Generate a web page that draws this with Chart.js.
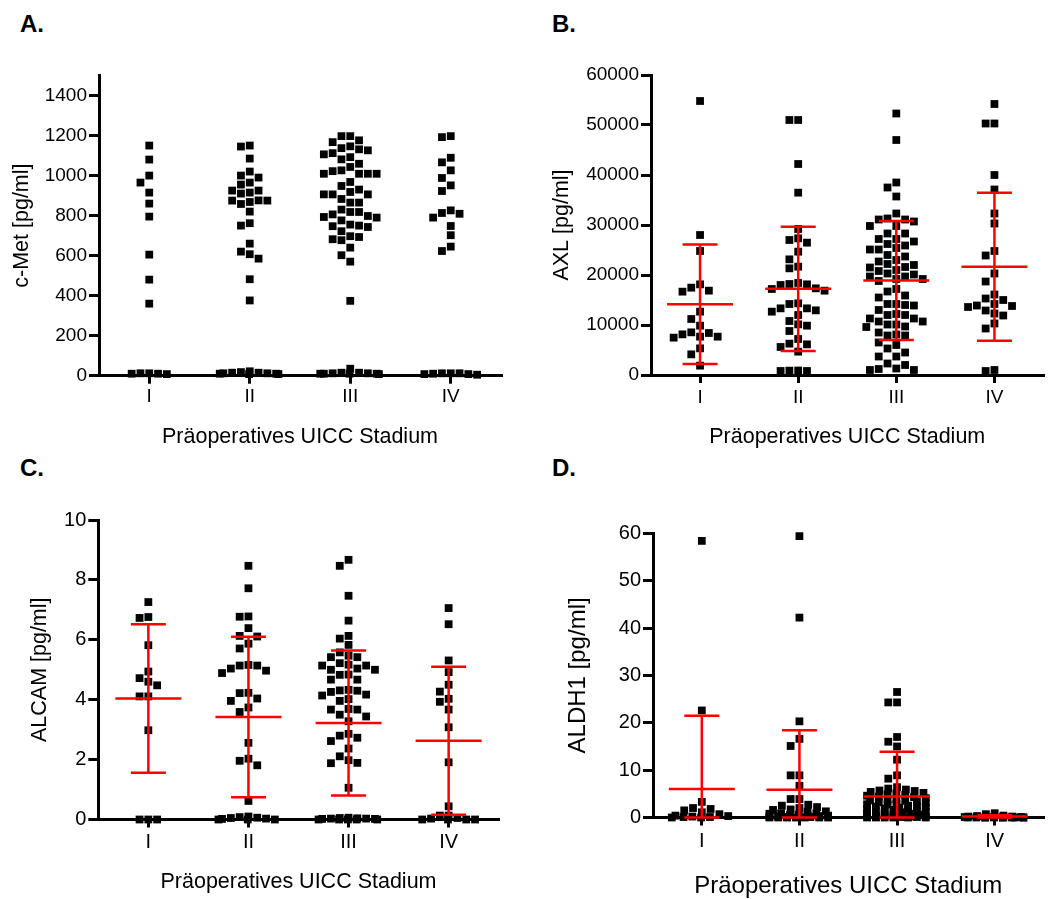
<!DOCTYPE html>
<html>
<head>
<meta charset="utf-8">
<script src="https://cdn.jsdelivr.net/npm/chart.js@4/dist/chart.umd.min.js"></script>
<style>
  html, body { margin: 0; padding: 0; background: #fff; }
  body { width: 1049px; height: 899px; position: relative; overflow: hidden; font-family: 'Liberation Sans', Arial, sans-serif; }
  canvas { position: absolute; }
  .lbl { position: absolute; font-weight: bold; font-size: 24px; line-height: 24px; color: #000; }
</style>
</head>
<body>
<div class="lbl" style="left:20px;top:12px;">A.</div>
<div class="lbl" style="left:552px;top:12px;">B.</div>
<div class="lbl" style="left:20px;top:456px;">C.</div>
<div class="lbl" style="left:552px;top:456px;">D.</div>
<canvas id="cA" width="520" height="450" style="left:0;top:0;"></canvas>
<canvas id="cB" width="529" height="450" style="left:520px;top:0;"></canvas>
<canvas id="cC" width="520" height="449" style="left:0;top:450px;"></canvas>
<canvas id="cD" width="529" height="449" style="left:520px;top:450px;"></canvas>
<script>
// ---------------- data ----------------
const categories = ['I', 'II', 'III', 'IV'];
const xAxisTitle = 'Präoperatives UICC Stadium';

// A. c-Met [pg/ml]
const cMetI = [1150, 1080, 1000, 965, 915, 860, 795, 605, 480, 360, 12, 10, 8, 10, 12];
const cMetII = [1150, 1145, 1085, 1020, 1000, 990, 965, 955, 925, 925, 915, 910, 876, 875, 875, 868, 858, 820, 762, 750, 660, 620, 607, 585, 482, 376, 22, 15, 12, 10, 8, 8, 10, 12, 15, 18];
const cMetIII = [1197, 1197, 1176, 1167, 1146, 1137, 1131, 1126, 1112, 1106, 1092, 1081, 1059, 1043, 1026, 1022, 1009, 1009, 1009, 1009, 968, 948, 930, 918, 906, 906, 906, 883, 865, 865, 830, 818, 818, 806, 798, 793, 790, 776, 755, 750, 747, 743, 722, 697, 693, 682, 677, 640, 602, 570, 374, 35, 15, 12, 10, 10, 8, 10, 12, 15, 10];
const cMetIV = [1197, 1192, 1089, 1066, 1026, 988, 951, 923, 826, 813, 809, 790, 748, 702, 645, 623, 12, 12, 8, 5, 8, 10, 12];
const cMetTicks = [0, 200, 400, 600, 800, 1000, 1200, 1400];

// B. AXL [pg/ml]
const axlI = [54800, 28000, 24800, 18130, 17470, 16870, 16670, 12670, 11200, 9870, 8530, 8400, 8130, 7670, 7670, 7470, 5330, 4130, 1870];
const axlII = [51000, 51000, 42200, 36470, 29200, 27330, 27000, 26470, 24670, 23130, 21670, 21330, 18400, 18200, 18130, 18000, 17330, 17200, 16870, 14330, 14200, 13330, 13330, 12930, 12670, 12000, 10800, 10130, 9870, 8800, 7200, 6270, 6130, 5600, 4670, 900, 870, 800, 800];
const axlIII = [52300, 47000, 38500, 37500, 35700, 32300, 31300, 31100, 31100, 30700, 29800, 29800, 28300, 28300, 27200, 27200, 26700, 26200, 25900, 25400, 25100, 25100, 24000, 23700, 23000, 22700, 22200, 22000, 21600, 21500, 21000, 20800, 20300, 20100, 19700, 19700, 19200, 19200, 18800, 17200, 16700, 15900, 15500, 14200, 14200, 14000, 13900, 13000, 12200, 12000, 12000, 11300, 11300, 10700, 10700, 10100, 10100, 9700, 9600, 8500, 8100, 7900, 7900, 6500, 6000, 5300, 4500, 3700, 3700, 2300, 2000, 1300, 1200, 1000, 1000];
const axlIV = [54200, 50300, 50300, 40000, 37100, 32300, 30300, 24800, 23900, 20300, 18700, 16100, 15300, 15000, 14200, 13900, 13800, 13600, 12900, 12300, 11900, 10300, 9300, 1000, 800];
const axlMean = [14150, 17230, 18900, 21670];
const axlSD = [11970, 12430, 11900, 14800];
const axlTicks = [0, 10000, 20000, 30000, 40000, 50000, 60000];

// C. ALCAM [pg/ml]
const alcamI = [7.26, 6.76, 6.73, 5.82, 4.94, 4.72, 4.6, 4.48, 4.11, 4.11, 2.98, 0, 0, 0];
const alcamII = [8.47, 7.72, 6.78, 6.77, 6.39, 6.13, 6.11, 5.87, 5.71, 5.16, 5.14, 5.14, 5.04, 4.97, 4.89, 4.23, 4.22, 4.04, 3.96, 3.74, 3.59, 2.56, 2.03, 1.96, 1.81, 0.62, 0.1, 0.08, 0.06, 0.05, 0.03, 0.02, 0, 0, 0];
const alcamIII = [8.67, 8.47, 7.47, 6.64, 6.13, 6.04, 5.83, 5.58, 5.47, 5.42, 5.42, 5.22, 5.17, 5.14, 5.14, 5.04, 5.0, 5.0, 4.84, 4.83, 4.67, 4.67, 4.33, 4.31, 4.3, 4.26, 4.17, 4.14, 4.02, 3.96, 3.69, 3.67, 3.67, 3.5, 3.44, 3.28, 2.86, 2.8, 2.73, 2.62, 2.37, 2.11, 1.98, 1.89, 1.88, 1.06, 0.06, 0.05, 0.04, 0.03, 0.03, 0.02, 0.02, 0, 0, 0, 0, 0];
const alcamIV = [7.06, 6.52, 5.31, 4.92, 4.5, 4.27, 4.03, 3.93, 3.67, 3.08, 1.91, 0.44, 0.13, 0.13, 0.05, 0.03, 0, 0, 0, 0];
const alcamMean = [4.04, 3.42, 3.22, 2.63];
const alcamSD = [2.48, 2.68, 2.42, 2.47];
const alcamTicks = [0, 2, 4, 6, 8, 10];

// D. ALDH1 [pg/ml]
const aldh1I = [58.4, 22.6, 3.3, 2.0, 1.8, 1.5, 1.1, 0.7, 0.4, 0.3, 0.2, 0.1, 0.1, 0, 0];
const aldh1II = [59.4, 42.2, 20.3, 16.6, 15.1, 8.9, 8.9, 6.7, 3.9, 3.9, 2.7, 2.5, 2.2, 2.0, 1.7, 1.6, 1.3, 1.2, 0.9, 0.9, 0.8, 0.6, 0.5, 0.4, 0.4, 0.3, 0.2, 0.2, 0.1, 0.1, 0.1, 0, 0, 0, 0, 0, 0, 0];
const aldh1III = [26.5, 24.3, 24.3, 17.0, 16.0, 15.0, 12.2, 8.9, 8.2, 6.4, 6.1, 5.9, 5.7, 5.6, 5.4, 5.2, 5.1, 4.9, 4.8, 4.6, 4.4, 4.3, 4.1, 3.9, 3.8, 3.6, 3.5, 3.4, 3.2, 3.1, 2.9, 2.8, 2.7, 2.5, 2.4, 2.3, 2.2, 2.1, 1.9, 1.8, 1.7, 1.6, 1.5, 1.4, 1.2, 1.1, 1.0, 0.9, 0.8, 0.7, 0.6, 0.5, 0.5, 0.4, 0.3, 0.3, 0.2, 0.2, 0.1, 0.1, 0.1, 0, 0, 0, 0, 0, 0];
const aldh1IV = [0.9, 0.7, 0.4, 0.3, 0.2, 0.2, 0.1, 0.1, 0.1, 0, 0, 0, 0, 0, 0, 0, 0, 0, 0, 0];
const aldh1Mean = [6.0, 5.85, 4.45, 0.2];
const aldh1SD = [15.5, 12.55, 9.45, 0.3];
const aldh1Ticks = [0, 10, 20, 30, 40, 50, 60];

// ---------------- drawing ----------------
Chart.defaults.font.family = "'Liberation Sans', Arial, sans-serif";
Chart.defaults.color = '#000';

const POINT_R = 5.5;      // rect side ~7.8px
const SWARM_STEP = 8.8;   // px between neighbouring squares
const SWARM_HALF = 30;    // max half width of a swarm in px

const errorBars = {
  id: 'errorBars',
  afterDatasetsDraw(chart, args, opts) {
    if (!opts || !opts.means) return;
    const { ctx } = chart;
    const xs = chart.scales.x, ys = chart.scales.y;
    ctx.save();
    ctx.strokeStyle = '#ff0000';
    ctx.lineWidth = 2.5;
    opts.means.forEach((m, i) => {
      const cx = xs.getPixelForValue(i + 1);
      const lo = Math.max(m - opts.sds[i], ys.min);
      const hi = m + opts.sds[i];
      const yM = ys.getPixelForValue(m), yL = ys.getPixelForValue(lo), yH = ys.getPixelForValue(hi);
      ctx.beginPath();
      ctx.moveTo(cx, yH); ctx.lineTo(cx, yL);
      ctx.moveTo(cx - 17.5, yH); ctx.lineTo(cx + 17.5, yH);
      ctx.moveTo(cx - 17.5, yL); ctx.lineTo(cx + 17.5, yL);
      ctx.moveTo(cx - 33, yM); ctx.lineTo(cx + 33, yM);
      ctx.stroke();
    });
    ctx.restore();
  }
};

function swarmOffsets(pys) {
  const S = SWARM_STEP;
  const order = pys.map((_, i) => i).sort((a, b) => pys[a] - pys[b]);
  const placed = [];
  const out = new Array(pys.length).fill(0);
  for (const i of order) {
    const py = pys[i];
    const near = placed.filter(p => Math.abs(p.y - py) < S);
    const cands = [0];
    near.forEach(p => { cands.push(p.x - S, p.x + S); });
    cands.sort((a, b) => (Math.abs(a) - Math.abs(b)) || (a - b));
    let chosen = null;
    for (const c of cands) {
      if (Math.abs(c) > SWARM_HALF + 0.01) continue;
      if (near.every(p => Math.abs(p.x - c) >= S - 0.01)) { chosen = c; break; }
    }
    if (chosen === null) {
      let best = 0, bestScore = Infinity;
      for (let c = -SWARM_HALF; c <= SWARM_HALF + 0.01; c += S / 3) {
        let score = 0;
        near.forEach(p => {
          const dx = S - Math.abs(p.x - c), dy = S - Math.abs(p.y - py);
          if (dx > 0) score += dx * dy;
        });
        if (score < bestScore - 1e-6 || (Math.abs(score - bestScore) < 1e-6 && Math.abs(c) < Math.abs(best))) {
          bestScore = score; best = c;
        }
      }
      chosen = best;
    }
    placed.push({ x: chosen, y: py });
    out[i] = chosen;
  }
  return out;
}

function makePanel(id, p) {
  const canvas = document.getElementById(id);
  const W = canvas.width, H = canvas.height;
  const datasets = p.groups.map((vals, g) => ({
    data: vals.map(v => ({ x: g + 1, y: v })),
    pointStyle: 'rect',
    pointRadius: POINT_R,
    pointHoverRadius: POINT_R,
    pointBackgroundColor: '#000',
    backgroundColor: '#000',
    pointBorderWidth: 0,
    borderWidth: 0,
    showLine: false,
    clip: false
  }));
  const chart = new Chart(canvas.getContext('2d'), {
    type: 'scatter',
    data: { datasets },
    plugins: [errorBars],
    options: {
      responsive: false,
      animation: false,
      events: [],
      layout: { padding: { left: 0, top: p.area.top, right: W - p.area.right, bottom: 0 } },
      plugins: {
        legend: { display: false },
        tooltip: { enabled: false },
        errorBars: p.means ? { means: p.means, sds: p.sds } : {}
      },
      scales: {
        x: {
          type: 'linear', min: 0.5, max: 4.5,
          afterBuildTicks: s => { s.ticks = categories.map((c, i) => ({ value: i + 1 })); },
          afterFit: s => { s.height = H - p.area.bottom; },
          ticks: { callback: v => categories[v - 1], font: { size: p.tickSize }, color: '#000', padding: p.xTickPad, maxRotation: 0, autoSkip: false },
          grid: { drawOnChartArea: false, drawTicks: true, tickLength: 8, tickWidth: 3, tickColor: '#000', lineWidth: 3, color: '#000' },
          border: { display: true, color: '#000', width: 3 },
          title: { display: true, text: xAxisTitle, color: '#000', font: { size: p.xTitleSize, lineHeight: 1 }, padding: { top: 0, bottom: p.xTitlePad } }
        },
        y: {
          type: 'linear', min: 0, max: p.yMax,
          afterBuildTicks: s => { s.ticks = p.ticks.map(v => ({ value: v })); },
          afterFit: s => { s.width = p.area.left; },
          ticks: { callback: v => String(v), font: { size: p.tickSize }, color: '#000', padding: 2 },
          grid: { drawOnChartArea: false, drawTicks: true, tickLength: 10, tickWidth: 3, tickColor: '#000', lineWidth: 3, color: '#000' },
          border: { display: true, color: '#000', width: 3 },
          title: { display: true, text: p.yTitle, color: '#000', font: { size: p.yTitleSize, lineHeight: 1 }, padding: { top: p.yTitlePad, bottom: 0 } }
        }
      }
    }
  });
  // lay out the dot plot (beeswarm) through the chart's own scales
  const xs = chart.scales.x, ys = chart.scales.y;
  const unit = xs.getPixelForValue(2) - xs.getPixelForValue(1);
  chart.data.datasets.forEach((ds, g) => {
    const vals = p.groups[g];
    const offs = swarmOffsets(vals.map(v => ys.getPixelForValue(v)));
    ds.data = vals.map((v, i) => ({ x: g + 1 + offs[i] / unit, y: v }));
  });
  chart.update('none');
  return chart;
}

makePanel('cA', {
  groups: [cMetI, cMetII, cMetIII, cMetIV],
  yMax: 1500, ticks: cMetTicks, yTitle: 'c-Met [pg/ml]',
  area: { left: 99, right: 501, top: 75.5, bottom: 375.7 },
  tickSize: 19, xTickPad: 2, xTitleSize: 21.5, xTitlePad: 1.7, yTitleSize: 21.5, yTitlePad: 11.5
});
makePanel('cB', {
  groups: [axlI, axlII, axlIII, axlIV],
  yMax: 60000, ticks: axlTicks, yTitle: 'AXL [pg/ml]',
  means: axlMean, sds: axlSD,
  area: { left: 131, right: 528, top: 75, bottom: 375 },
  tickSize: 19, xTickPad: 3, xTitleSize: 21.5, xTitlePad: 1.7, yTitleSize: 21.5, yTitlePad: 31
});
makePanel('cC', {
  groups: [alcamI, alcamII, alcamIII, alcamIV],
  yMax: 10, ticks: alcamTicks, yTitle: 'ALCAM [pg/ml]',
  means: alcamMean, sds: alcamSD,
  area: { left: 98.3, right: 498.7, top: 70, bottom: 369.5 },
  tickSize: 20, xTickPad: 3, xTitleSize: 21.5, xTitlePad: 5.7, yTitleSize: 21.5, yTitlePad: 29.2
});
makePanel('cD', {
  groups: [aldh1I, aldh1II, aldh1III, aldh1IV],
  yMax: 60, ticks: aldh1Ticks, yTitle: 'ALDH1 [pg/ml]',
  means: aldh1Mean, sds: aldh1SD,
  area: { left: 133, right: 528.5, top: 83.3, bottom: 367.5 },
  tickSize: 20, xTickPad: 4, xTitleSize: 24, xTitlePad: 0.3, yTitleSize: 24, yTitlePad: 46.3
});
</script>
</body>
</html>
